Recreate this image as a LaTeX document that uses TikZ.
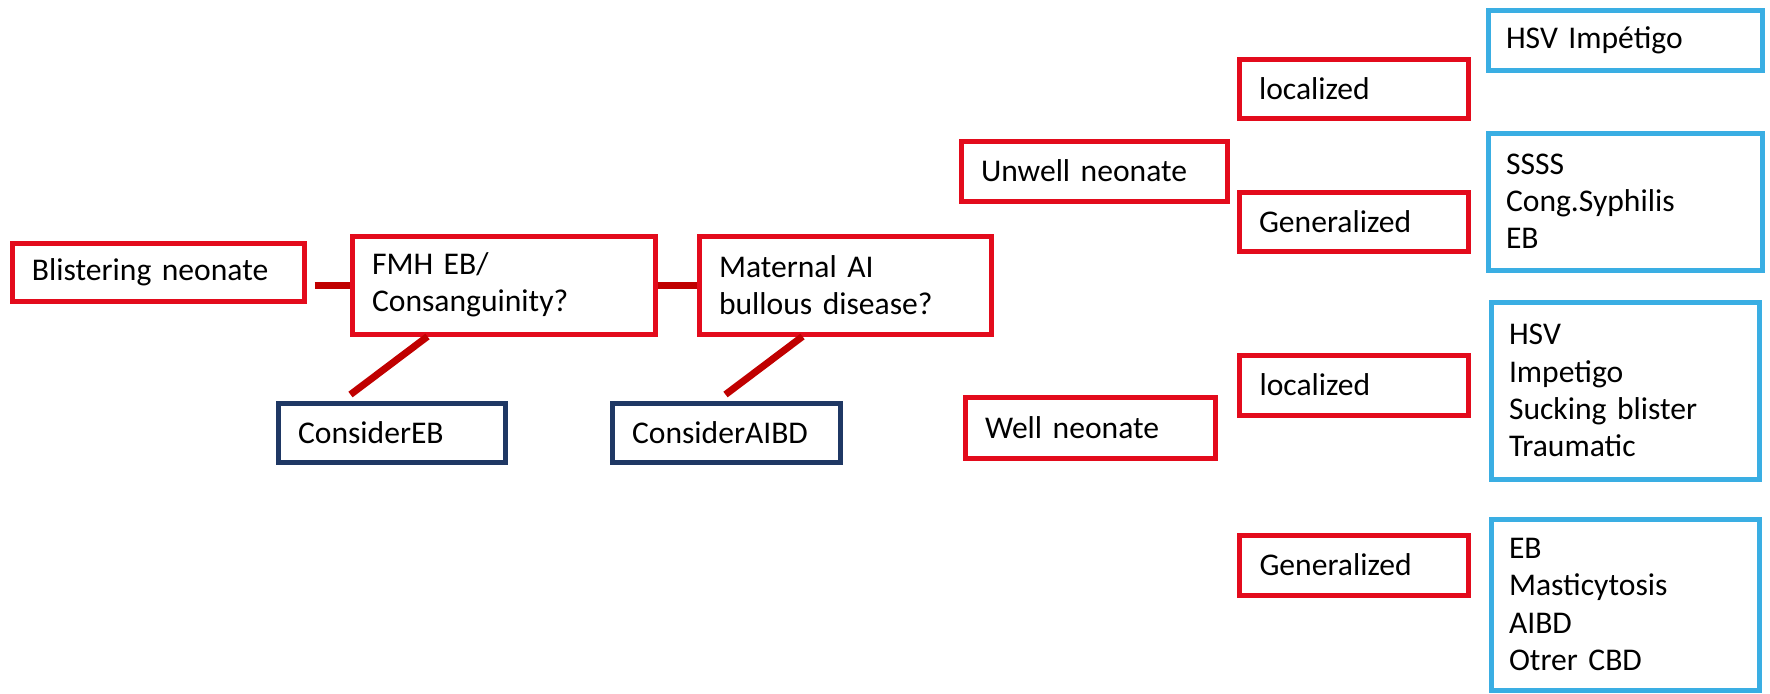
\documentclass[tikz,border=0pt]{standalone}
\usepackage{fontspec}
\setmainfont{Carlito}
\usepackage{tikz}
\usetikzlibrary{calc,positioning}

\definecolor{boxred}{RGB}{227,11,28}
\definecolor{linkred}{RGB}{192,0,0}
\definecolor{navy}{RGB}{31,56,100}
\definecolor{skyblue}{RGB}{58,174,227}

\tikzset{
  every node/.style={font=\fontsize{15.8pt}{18.6pt}\selectfont},
  redbox/.style={draw=boxred, line width=2.5pt, inner xsep=10pt, inner ysep=0pt, align=left},
  navybox/.style={draw=navy, line width=2.5pt, inner xsep=10pt, inner ysep=0pt, align=left},
  skybox/.style={draw=skyblue, line width=2.5pt, inner xsep=9pt, inner ysep=0pt, align=left},
  link/.style={linkred, line width=3.5pt}
}

\begin{document}
\begin{tikzpicture}[x=0.5pt, y=-0.5pt, line join=miter]

    \useasboundingbox (0,0) rectangle (1770,693);

    % --- 1. Screening chain ---
    \node[redbox, text width=126pt, minimum height=29pt] (blister) at (158,272) {Blistering neonate};
    \node[redbox, text width=131.5pt, minimum height=49pt] (fmh) at (503.5,285) {FMH EB/\\Consanguinity?};
    \node[redbox, text width=126pt, minimum height=49pt] (maternal) at (845,285) {Maternal AI\\bullous disease?};

    \node[navybox, text width=93.5pt, minimum height=29.5pt] (considereb) at (391.5,432.5) {ConsiderEB};
    \node[navybox, text width=94pt, minimum height=29.5pt] (consideraibd) at (726,432.5) {ConsiderAIBD};

    \draw[link] ([xshift=4pt]fmh.west -| blister.east) -- (fmh.west);
    \draw[link] (fmh.east) -- (maternal.west);
    \draw[link] ([xshift=39pt]fmh.south west) -- ([xshift=37.5pt,yshift=3pt]considereb.north west);
    \draw[link] ([xshift=53pt]maternal.south west) -- ([xshift=58pt,yshift=3pt]consideraibd.north west);

    % --- 2. Unwell neonate ---
    \node[redbox, text width=113pt, minimum height=30pt] (unwell) at (1094,171) {Unwell neonate};
    \node[redbox, text width=94.5pt, minimum height=29.5pt] (unwellloc) at (1353.5,88.5) {localized};
    \node[redbox, text width=94.5pt, minimum height=29.5pt] (unwellgen) at (1353.5,221.5) {Generalized};
    \node[skybox, text width=119pt, minimum height=30pt] (unwelllocdx) at (1625,40) {HSV Impétigo};
    \node[skybox, text width=119pt, minimum height=68.5pt] (unwellgendx) at (1625,201.5) {SSSS\\Cong.Syphilis\\EB};

    % --- 3. Well neonate ---
    \node[redbox, text width=105pt, minimum height=30.5pt] (well) at (1090,427.5) {Well neonate};
    \node[redbox, text width=94.5pt, minimum height=30pt] (wellloc) at (1354,385) {localized};
    \node[redbox, text width=94.5pt, minimum height=30pt] (wellgen) at (1354,565) {Generalized};
    \node[skybox, text width=116pt, minimum height=88.5pt] (welllocdx) at (1625,390.5) {HSV\\Impetigo\\Sucking blister\\Traumatic};
    \node[skybox, text width=116pt, minimum height=85.5pt] (wellgendx) at (1625,604.5) {EB\\Masticytosis\\AIBD\\Otrer CBD};

\end{tikzpicture}
\end{document}
